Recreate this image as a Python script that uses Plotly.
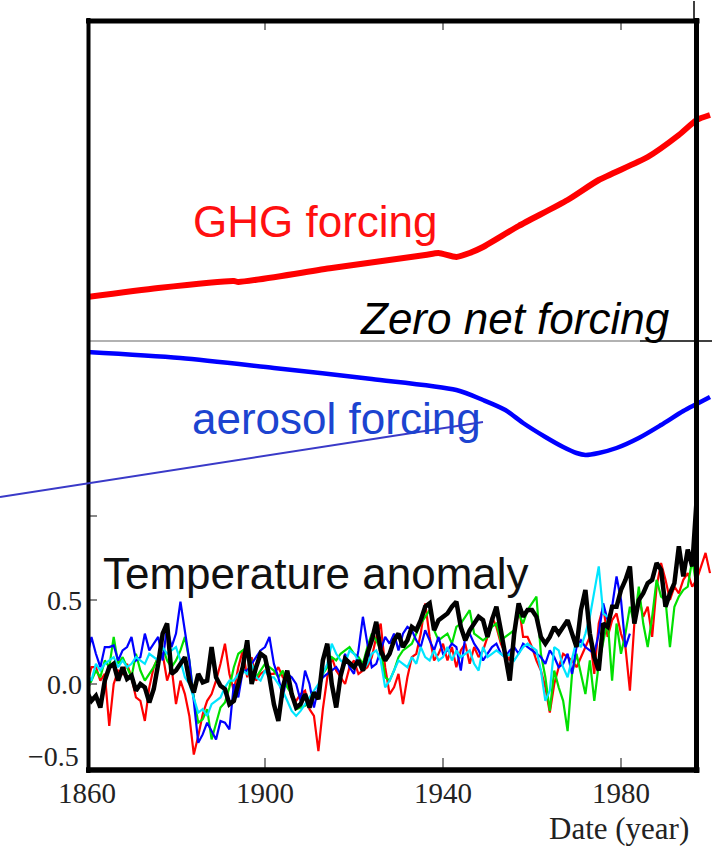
import plotly.graph_objects as go

# ---------------- data ----------------
years = list(range(1860, 2001))

# Observed global temperature anomaly (thick black), 1860-1997
temp_obs = [
    -0.05, -0.10, -0.07, -0.14, 0.02, 0.10, 0.12, 0.02, 0.10, 0.03,
    0.05, -0.04, 0.00, -0.02, -0.11, -0.03, 0.12, 0.30, 0.36, 0.06,
    0.08, 0.12, 0.16, 0.02, -0.05, 0.06, 0.01, 0.02, 0.22, 0.04,
    -0.01, -0.03, -0.12, -0.10, 0.01, 0.10, 0.26, 0.00, 0.10, 0.18,
    0.16, 0.04, -0.12, -0.22, -0.02, 0.08, -0.06, -0.14, -0.12, -0.06,
    -0.14, -0.05, -0.09, 0.14, 0.24, 0.00, -0.14, 0.05, 0.15, 0.12,
    0.10, 0.14, 0.08, 0.18, 0.26, 0.37, 0.20, 0.14, 0.18, 0.26,
    0.30, 0.22, 0.26, 0.34, 0.32, 0.38, 0.46, 0.48, 0.32, 0.38,
    0.40, 0.42, 0.46, 0.49, 0.34, 0.26, 0.32, 0.36, 0.40, 0.38,
    0.28, 0.38, 0.46, 0.32, 0.18, 0.02, 0.30, 0.48, 0.40, 0.44,
    0.44, 0.40, 0.28, 0.24, 0.28, 0.34, 0.30, 0.34, 0.38, 0.30,
    0.22, 0.44, 0.56, 0.30, 0.16, 0.08, 0.36, 0.34, 0.46, 0.46,
    0.56, 0.62, 0.70, 0.36, 0.50, 0.54, 0.60, 0.62, 0.72, 0.68,
    0.46, 0.54, 0.60, 0.82, 0.64, 0.80, 0.70, 1.10,
]

# Model ensemble members
run_red = [
    0.00, 0.10, 0.10, 0.02, 0.06, -0.25, 0.00, 0.08, 0.06, 0.12,
    0.04, -0.08, -0.10, -0.22, -0.02, 0.10, 0.16, 0.18, 0.02, 0.10,
    -0.12, 0.02, -0.06, -0.19, -0.42, -0.31, -0.18, -0.10, -0.06, 0.02,
    0.12, 0.24, 0.06, -0.04, 0.10, 0.20, 0.04, 0.16, 0.02, 0.06,
    0.08, 0.06, 0.06, 0.10, 0.04, 0.02, -0.08, -0.10, -0.06, -0.04,
    -0.15, -0.19, -0.40, -0.15, 0.04, 0.16, 0.08, 0.04, 0.00, 0.10,
    0.14, 0.06, 0.08, 0.10, 0.16, 0.28, 0.36, 0.10, -0.06, -0.02,
    0.06, -0.12, 0.04, 0.16, 0.18, 0.30, 0.48, 0.28, 0.14, 0.18,
    0.24, 0.14, 0.22, 0.10, 0.20, 0.24, 0.12, 0.22, 0.16, 0.20,
    0.28, 0.40, 0.34, 0.24, 0.18, 0.14, 0.28, 0.48, 0.28, 0.28,
    0.22, 0.14, 0.08, -0.02, -0.17, 0.00, 0.10, 0.18, 0.16, 0.14,
    0.10, 0.16, 0.22, 0.28, 0.06, 0.36, 0.46, 0.28, 0.38, 0.42,
    0.30, 0.22, -0.04, 0.36, 0.52, 0.40, 0.46, 0.28, 0.58, 0.72,
    0.62, 0.50, 0.58, 0.54, 0.62, 0.66, 0.58, 0.62, 0.70, 0.78,
    0.66,
]

run_green = [
    -0.04, 0.02, 0.08, 0.04, 0.14, 0.10, 0.28, 0.12, 0.16, 0.10,
    0.04, 0.18, 0.08, 0.02, 0.06, 0.10, 0.16, 0.22, 0.14, 0.10,
    0.14, 0.20, 0.28, 0.14, -0.08, -0.23, -0.21, -0.15, -0.33, -0.23,
    -0.14, -0.11, -0.02, 0.10, 0.18, 0.20, 0.22, 0.12, 0.04, 0.08,
    0.12, 0.10, 0.08, 0.04, 0.08, -0.02, -0.06, -0.15, -0.14, -0.13,
    -0.11, -0.08, -0.06, 0.06, 0.10, 0.16, 0.14, 0.18, 0.20, 0.22,
    0.18, 0.16, 0.12, 0.22, 0.30, 0.26, 0.20, 0.04, 0.02, 0.08,
    0.16, 0.20, 0.22, 0.24, 0.30, 0.36, 0.40, 0.44, 0.32, 0.26,
    0.28, 0.30, 0.24, 0.34, 0.36, 0.40, 0.44, 0.30, 0.28, 0.26,
    0.28, 0.34, 0.36, 0.26, 0.28, 0.30, 0.32, 0.42, 0.36, 0.44,
    0.48, 0.52, 0.18, 0.04, -0.16, 0.08, -0.02, -0.10, -0.28, 0.06,
    0.18, 0.06, -0.06, 0.14, -0.10, 0.12, 0.26, 0.38, 0.02, 0.36,
    0.18, 0.30, 0.46, 0.36, 0.58, 0.36, 0.22, 0.40, 0.62, 0.52,
    0.50, 0.22, 0.46, 0.52, 0.56, 0.58, 0.74, 0.58,
]

run_blue = [
    0.16, 0.28, 0.18, 0.10, 0.22, 0.22, 0.23, 0.14, 0.20, 0.22,
    0.28, 0.14, 0.16, 0.30, 0.20, 0.24, 0.28, 0.14, 0.34, 0.22,
    0.30, 0.49, 0.30, 0.14, -0.10, -0.35, -0.30, -0.23, -0.28, -0.33,
    -0.22, -0.23, -0.27, 0.00, -0.08, 0.08, 0.08, 0.12, 0.16, 0.20,
    0.22, 0.28, 0.12, 0.04, -0.08, 0.06, 0.04, 0.00, -0.10, 0.08,
    0.00, -0.14, -0.02, 0.04, 0.06, 0.08, 0.10, 0.06, 0.18, 0.10,
    0.06, 0.20, 0.40, 0.24, 0.10, 0.12, 0.20, 0.28, 0.24, 0.30,
    0.20, 0.30, 0.34, 0.32, 0.26, 0.22, 0.32, 0.26, 0.20, 0.28,
    0.18, 0.20, 0.24, 0.22, 0.08, 0.28, 0.30, 0.24, 0.20, 0.14,
    0.18, 0.22, 0.24, 0.18, 0.16, 0.20, 0.22, 0.18, 0.24, 0.22,
    0.20, 0.18, 0.16, 0.12, 0.20, 0.16, 0.10, 0.12, 0.18, 0.06,
    0.22, 0.26, 0.22, 0.20, 0.18, 0.30, 0.48, 0.38, 0.46, 0.64,
    0.50, 0.22, 0.30,
]

run_cyan = [
    0.06, 0.02, 0.12, 0.08, 0.12, 0.14, 0.16, 0.10, 0.14, 0.10,
    0.12, 0.16, 0.14, 0.12, 0.18, 0.16, 0.14, 0.22, 0.18, 0.20,
    0.22, 0.14, 0.04, 0.00, -0.08, -0.17, -0.15, -0.19, -0.12, -0.10,
    -0.08, -0.02, 0.02, 0.02, 0.06, 0.08, 0.06, 0.12, 0.04, 0.02,
    0.08, 0.04, 0.04, 0.00, -0.04, -0.10, -0.16, -0.19, -0.16, -0.12,
    -0.08, -0.04, 0.00, 0.06, 0.12, 0.24, 0.18, 0.14, 0.12, 0.20,
    0.18, 0.14, 0.08, 0.12, 0.18, 0.20, 0.14, -0.02, 0.02, 0.08,
    0.14, 0.12, 0.10, 0.16, 0.12, 0.22, 0.16, 0.14, 0.20, 0.14,
    0.16, 0.22, 0.14, 0.20, 0.16, 0.18, 0.20, 0.12, 0.08, 0.22,
    0.16, 0.18, 0.20, 0.18, 0.16, 0.18, 0.14, 0.18, 0.22, 0.24,
    0.22, 0.20, 0.08, -0.10, -0.04, 0.22, 0.20, 0.10, 0.04, 0.16,
    0.26, 0.22, 0.30, 0.40, 0.54, 0.70, 0.42, 0.40,
]

# Radiative forcing curves (W/m^2)
ghg_years = [1860, 1876, 1893, 1894, 1915, 1936, 1939, 1943, 1946, 1949,
             1957, 1968, 1975, 1986, 1993, 1997, 2000]
ghg_forcing = [0.44, 0.53, 0.60, 0.59, 0.73, 0.86, 0.88, 0.84, 0.88, 0.94,
               1.15, 1.41, 1.61, 1.84, 2.06, 2.21, 2.26]

aer_years = [1860, 1881, 1902, 1924, 1943, 1949, 1954, 1958, 1963, 1967,
             1970, 1972, 1975, 1979, 1984, 1989, 1994, 1997, 2000]
aer_forcing = [-0.11, -0.17, -0.27, -0.38, -0.49, -0.59, -0.69, -0.82, -0.96, -1.06,
               -1.12, -1.14, -1.12, -1.07, -0.97, -0.84, -0.70, -0.63, -0.56]

x_tickvals = [1860, 1900, 1940, 1980]
x_ticktext = ["1860", "1900", "1940", "1980"]
y_tickvals = [-0.5, 0.0, 0.5, 1.0]
# the bottom label is placed separately, raised off the corner
y_ticktext = ["", "0.0", "0.5", ""]
y_bottom_label = "\u22120.5"

# ---------------- figure ----------------
W, H = 712, 850
ML, MR, MT, MB = 87, 0, 20, 82
PW, PH = W - ML - MR, H - MT - MB


def px(xp):
    return (xp - ML) / PW


def py(yp):
    return (H - MB - yp) / PH


SANS = "Liberation Sans, Arial, sans-serif"
SERIF = "Liberation Serif, Times New Roman, serif"

fig = go.Figure()

# forcing curves on the secondary y axis
fig.add_trace(go.Scatter(x=ghg_years, y=ghg_forcing, yaxis="y2", mode="lines",
                         line=dict(color="#ff0000", width=6, shape="spline", smoothing=0.6),
                         hoverinfo="skip"))
fig.add_trace(go.Scatter(x=aer_years, y=aer_forcing, yaxis="y2", mode="lines",
                         line=dict(color="#0000ff", width=4.5, shape="spline", smoothing=0.8),
                         hoverinfo="skip"))

# temperature series
runs = [(run_red, "#ff0000"), (run_green, "#00e000"), (run_blue, "#0000ff"), (run_cyan, "#00e5ff")]
for vals, col in runs:
    fig.add_trace(go.Scatter(x=years[:len(vals)], y=vals, mode="lines",
                             line=dict(color=col, width=2.2), hoverinfo="skip"))
fig.add_trace(go.Scatter(x=years[:len(temp_obs)], y=temp_obs, mode="lines",
                         line=dict(color="#000000", width=4.5), hoverinfo="skip"))

shapes = []
# zero net forcing line
shapes.append(dict(type="line", xref="paper", yref="y2", x0=px(88), x1=px(640), y0=0, y1=0,
                   line=dict(color="#999999", width=1.5), layer="below"))
shapes.append(dict(type="line", xref="paper", yref="y2", x0=px(640), x1=1.0, y0=0, y1=0,
                   line=dict(color="#000000", width=1.5), layer="below"))
# frame
frame = dict(color="#000000", width=5)
shapes.append(dict(type="line", xref="paper", yref="paper", x0=px(88.5), x1=px(88.5),
                   y0=py(773), y1=py(18), line=dict(color="#000000", width=4)))
shapes.append(dict(type="line", xref="paper", yref="paper", x0=px(86), x1=px(699.5),
                   y0=py(770), y1=py(770), line=dict(color="#000000", width=5.5)))
shapes.append(dict(type="line", xref="paper", yref="paper", x0=px(86), x1=px(699.5),
                   y0=py(21), y1=py(21), line=frame))
shapes.append(dict(type="line", xref="paper", yref="paper", x0=px(696.5), x1=px(696.5),
                   y0=py(773), y1=py(18), line=frame))
shapes.append(dict(type="line", xref="paper", yref="paper", x0=px(694), x1=px(694),
                   y0=py(1), y1=py(20), line=dict(color="#000000", width=1.5)))
# pointer line
shapes.append(dict(type="line", xref="paper", yref="paper", x0=px(0), y0=py(497),
                   x1=px(483), y1=py(422), line=dict(color="#3a3ac8", width=2)))

annotations = [
    dict(text="GHG forcing", x=px(191), y=py(222), xanchor="left", yanchor="middle",
         font=dict(family=SANS, size=44, color="#ff1010")),
    dict(text="<i>Zero net forcing</i>", x=px(358), y=py(318), xanchor="left", yanchor="middle",
         font=dict(family=SANS, size=44, color="#000000")),
    dict(text="aerosol forcing", x=px(190), y=py(418), xanchor="left", yanchor="middle",
         font=dict(family=SANS, size=44, color="#1c44d0")),
    dict(text="Temperature anomaly", x=px(101), y=py(573), xanchor="left", yanchor="middle",
         font=dict(family=SANS, size=44, color="#111111")),
    dict(text="Date (year)", x=px(691), y=py(828), xanchor="right", yanchor="middle",
         font=dict(family=SERIF, size=31, color="#222222")),
    dict(text=y_bottom_label, x=px(81), y=py(756), xanchor="right", yanchor="middle",
         font=dict(family=SERIF, size=28, color="#222222")),
]
for a in annotations:
    a.update(xref="paper", yref="paper", showarrow=False)

fig.update_layout(
    width=W, height=H,
    margin=dict(l=ML, r=MR, t=MT, b=MB, pad=0),
    paper_bgcolor="white", plot_bgcolor="white",
    showlegend=False,
    shapes=shapes,
    annotations=annotations,
    xaxis=dict(range=[1860, 1860 + PW / 4.45], tickvals=x_tickvals, ticktext=x_ticktext,
               ticks="inside", ticklen=10, tickwidth=1.5, tickcolor="#888888",
               mirror="ticks", showline=False, showgrid=False, zeroline=False,
               tickfont=dict(family=SERIF, size=29, color="#222222"),
               ticklabelstandoff=5),
    yaxis=dict(range=[-0.5, -0.5 + PH / 168.0], tickvals=y_tickvals, ticktext=y_ticktext,
               ticks="inside", ticklen=10, tickwidth=1.5, tickcolor="#888888",
               showline=False, showgrid=False, zeroline=False,
               tickfont=dict(family=SERIF, size=28, color="#222222"),
               ticklabelstandoff=4),
    yaxis2=dict(range=[(341 - (H - MB)) / 100.0, (341 - MT) / 100.0], overlaying="y",
                visible=False, showgrid=False, zeroline=False),
)

fig.write_html("out.html")
